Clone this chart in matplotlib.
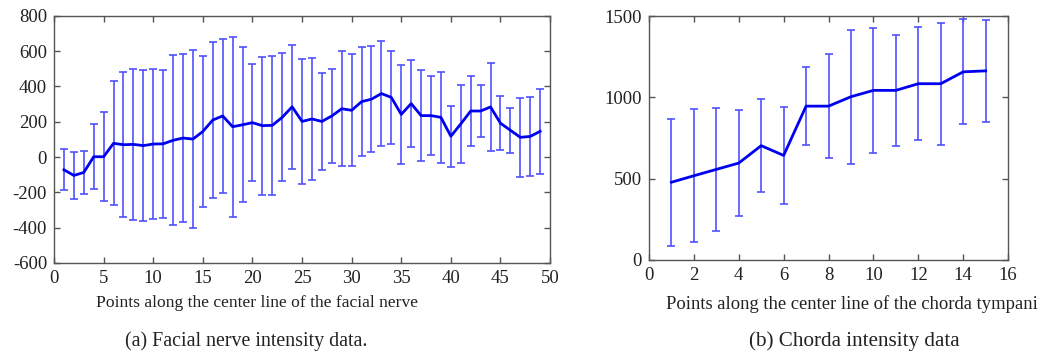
import numpy as np
from matplotlib import pyplot as plt

# Facial nerve intensity (mean and half error range per point)
facial_x = np.arange(1, 50)
facial_mean = [-72, -104, -87, 2, 2, 78, 70, 72, 65, 74,
               75, 95, 108, 102, 145, 210, 233, 172, 183, 195,
               178, 180, 225, 285, 202, 216, 202, 233, 274, 265,
               314, 328, 360, 338, 242, 303, 235, 235, 225, 118,
               188, 261, 261, 284, 192, 152, 112, 117, 146]
facial_err = [115, 131, 120, 185, 251, 352, 411, 427, 427, 424,
              418, 481, 474, 504, 427, 443, 435, 511, 440, 330,
              390, 395, 362, 350, 354, 348, 273, 265, 325, 317,
              308, 302, 298, 265, 282, 246, 259, 225, 258, 172,
              220, 197, 149, 251, 152, 128, 225, 223, 242]

# Chorda tympani intensity
chorda_x = np.arange(1, 16)
chorda_mean = [478, 518, 557, 596, 703, 643, 946, 946, 1004, 1043,
               1043, 1084, 1084, 1157, 1163]
chorda_err = [391, 408, 379, 328, 287, 298, 240, 320, 413, 384,
              340, 348, 376, 323, 315]

facial_xticks = np.arange(0, 51, 5)
facial_yticks = np.arange(-600, 801, 200)
chorda_xticks = np.arange(0, 17, 2)
chorda_yticks = [0, 500, 1000, 1500]

plt.rcParams['font.family'] = ['Liberation Serif', 'DejaVu Serif']
plt.rcParams['axes.unicode_minus'] = False

bar_col = '#5050ff'
line_col = '#0000f0'
spine_col = '#555555'
txt_col = '#222222'

fig = plt.figure(figsize=(10.41, 3.53), dpi=100)
ax1 = fig.add_axes([0.0519, 0.255, 0.4765, 0.70])
ax2 = fig.add_axes([0.6234, 0.2635, 0.345, 0.691])


def style(ax):
    for s in ax.spines.values():
        s.set_color(spine_col)
        s.set_linewidth(1.0)
    ax.tick_params(direction='in', top=True, right=True, length=4,
                   width=1, color=spine_col, labelsize=13.5,
                   labelcolor=txt_col, pad=5)


# (a) facial nerve
ax1.errorbar(facial_x, facial_mean, yerr=facial_err, fmt='none',
             ecolor=bar_col, elinewidth=1.2, capsize=3, capthick=1.2)
ax1.plot(facial_x, facial_mean, color=line_col, lw=2)
ax1.set_xlim(0, 50)
ax1.set_ylim(-600, 800)
ax1.set_xticks(facial_xticks)
ax1.set_yticks(facial_yticks)
style(ax1)
ax1.set_xlabel('Points along the center line of the facial nerve',
               fontsize=12.6, color=txt_col)
ax1.xaxis.set_label_coords(0.41, -0.13)

# (b) chorda tympani
ax2.errorbar(chorda_x, chorda_mean, yerr=chorda_err, fmt='none',
             ecolor=bar_col, elinewidth=1.2, capsize=3, capthick=1.2)
ax2.plot(chorda_x, chorda_mean, color=line_col, lw=2)
ax2.set_xlim(0, 16)
ax2.set_ylim(0, 1500)
ax2.set_xticks(chorda_xticks)
ax2.set_yticks(chorda_yticks)
style(ax2)
ax2.set_xlabel('Points along the center line of the chorda tympani',
               fontsize=13.4, color=txt_col)
ax2.xaxis.set_label_coords(0.565, -0.143)

fig.text(246 / 1041, 1 - 341 / 353, '(a) Facial nerve intensity data.',
         ha='center', va='center', fontsize=14.4, color=txt_col)
fig.text(854 / 1041, 1 - 341 / 353, '(b) Chorda intensity data',
         ha='center', va='center', fontsize=15.2, color=txt_col)

fig.savefig('out.png', dpi=100)
